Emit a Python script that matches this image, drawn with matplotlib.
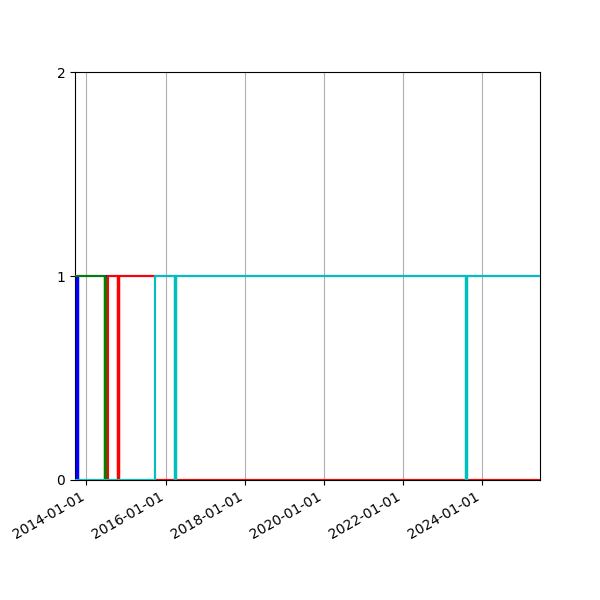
import numpy as np
import pandas as pd
import matplotlib
matplotlib.use("Agg")
import matplotlib.pyplot as plt
import matplotlib.dates as mdates


# %%
# axis range
t_start = pd.Timestamp("2013-09-17")
t_end = pd.Timestamp("2025-06-19")

# state series (0/1), drawn as steps-post
blue_dates = pd.to_datetime(["2013-09-17", "2013-10-05", "2025-06-19"])
blue_vals = [0, 1, 1]

green_dates = pd.to_datetime(["2013-09-17", "2014-06-24", "2025-06-19"])
green_vals = [1, 0, 0]

red_dates = pd.to_datetime(["2013-09-17", "2014-07-17", "2015-09-28", "2025-06-19"])
red_vals = [0, 1, 0, 0]

cyan_dates = pd.to_datetime(["2013-09-17", "2015-09-28", "2025-06-19"])
cyan_vals = [0, 1, 1]

# event markers per series
blue_events = pd.to_datetime(["2013-10-05"])
green_events = pd.to_datetime(["2014-06-24"])
red_events = pd.to_datetime(["2014-10-23"])
cyan_events = pd.to_datetime(["2016-04-01", "2023-08-06"])


# %%
fig, ax = plt.subplots(figsize=(6, 6), dpi=100)

series = [
    (blue_dates, blue_vals, blue_events, 'b'),
    (green_dates, green_vals, green_events, 'g'),
    (red_dates, red_vals, red_events, 'r'),
    (cyan_dates, cyan_vals, cyan_events, 'c'),
]
for d, v, ev, col in series:
    ax.plot(d, v, drawstyle='steps-post', color=col, lw=1.5, zorder=3)
    ax.vlines(ev, 0, 1, color=col, lw=2.5, zorder=3)

ax.set_xlim(t_start, t_end)
ax.set_ylim(0, 2)
ax.set_yticks([0, 1, 2])
ax.xaxis.set_major_locator(mdates.YearLocator(2))
ax.xaxis.set_major_formatter(mdates.DateFormatter('%Y-%m-%d'))
ax.grid(axis='x')
ax.set_axisbelow(True)
fig.autofmt_xdate()
fig.savefig("out.png")
